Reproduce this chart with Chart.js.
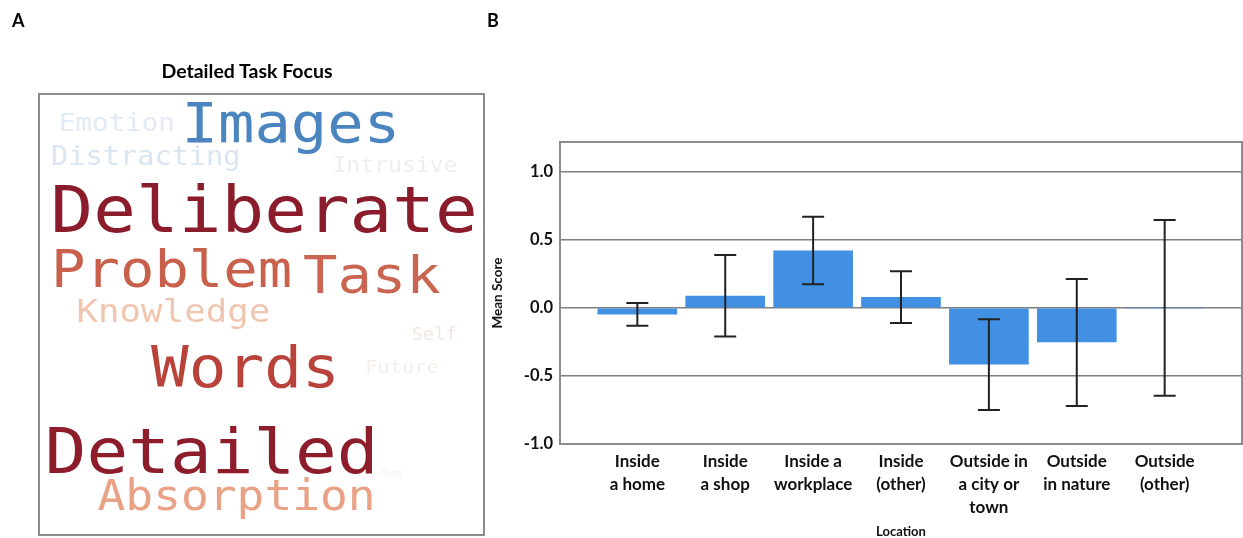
<!DOCTYPE html>
<html>
<head>
<meta charset="utf-8">
<script src="https://cdn.jsdelivr.net/npm/chart.js@4.4.1/dist/chart.umd.min.js"></script>
<style>
  body { margin: 0; background: #fff; font-family: Lato, sans-serif; }
  #page { position: relative; width: 1243px; height: 538px; overflow: hidden; }
  .panel-letter { position: absolute; font-weight: bold; font-size: 18px; color: #000; }
  #cloud-title { position: absolute; left: 97px; top: 59px; width: 300px; line-height: 24px; text-align: center; font-weight: bold; font-size: 19.5px; color: #000; }
  #cloudBox { position: absolute; left: 0; top: 0; width: 490px; height: 538px; }
  #barBox { position: absolute; left: 480px; top: 0; width: 763px; height: 538px; }
</style>
</head>
<body>
<div id="page">
  <div id="cloudBox"><canvas id="cloudChart"></canvas></div>
  <div id="barBox"><canvas id="barChart"></canvas></div>
  <div class="panel-letter" style="left:12px; top:9px;">A</div>
  <div class="panel-letter" style="left:487px; top:9px;">B</div>
  <div id="cloud-title">Detailed Task Focus</div>
</div>

<script>
// Panel A - word cloud
const cloudWords = ["Images", "Emotion", "Distracting", "Intrusive", "Deliberate", "Problem", "Task",
  "Knowledge", "Self", "Words", "Future", "Detailed", "Absorption", "Mind"];
const cloudWeights = [55, 25, 26, 21, 64.5, 52, 52, 32.5, 17, 57, 18.5, 63, 42, 8];
// word anchor (centre, baseline) inside the cloud frame, 0-100
const cloudX = [56.6, 17.5, 24.0, 80.0, 50.6, 29.8, 74.8, 30.2, 88.8, 46.4, 81.6, 38.8, 44.4, 79.1];
const cloudY = [10.9, 8.5, 16.1, 17.6, 31.4, 43.7, 45.2, 51.6, 55.8, 66.4, 63.3, 86.0, 94.3, 86.6];
const cloudColors = ["#4a85c0", "#e2ebf5", "#d9e6f2", "#eceef1", "#8a1c2c", "#c9604c", "#c96550",
  "#f1c6b0", "#f3e7e2", "#b9423a", "#f5eeeb", "#8e1d2c", "#e9a286", "#f6f1f1"];

// Panel B - bar chart
const locations = [
  ["Inside", "a home"],
  ["Inside", "a shop"],
  ["Inside a", "workplace"],
  ["Inside", "(other)"],
  ["Outside in", "a city or", "town"],
  ["Outside", "in nature"],
  ["Outside", "(other)"]
];
const meanScores = [-0.045, 0.088, 0.42, 0.079, -0.414, -0.25, 0];
const errLow = [-0.13, -0.21, 0.174, -0.11, -0.75, -0.72, -0.645];
const errHigh = [0.037, 0.39, 0.67, 0.27, -0.083, 0.213, 0.647];
const yTicks = [-1.0, -0.5, 0.0, 0.5, 1.0];

const frame = {
  id: "frame",
  afterDraw(chart) {
    const a = chart.chartArea;
    const c = chart.ctx;
    c.save();
    c.strokeStyle = "#8c8c8c";
    c.lineWidth = 2;
    c.strokeRect(a.left, a.top, a.right - a.left, a.bottom - a.top);
    c.restore();
  }
};

// draws each word at its point
const wordPlugin = {
  id: "words",
  afterDatasetsDraw(chart) {
    const c = chart.ctx;
    const meta = chart.getDatasetMeta(0);
    c.save();
    c.textAlign = "center";
    c.textBaseline = "alphabetic";
    meta.data.forEach(function (pt, i) {
      c.save();
      c.translate(pt.x, pt.y);
      c.scale(1.1, 1);
      c.font = cloudWeights[i] + "px 'DejaVu Sans Mono'";
      c.fillStyle = cloudColors[i];
      c.fillText(cloudWords[i], 0, 0);
      c.restore();
    });
    c.restore();
  }
};

new Chart(document.getElementById("cloudChart"), {
  type: "scatter",
  data: {
    datasets: [{
      data: cloudWords.map((w, i) => ({ x: cloudX[i], y: cloudY[i] })),
      pointRadius: 0
    }]
  },
  options: {
    responsive: true,
    maintainAspectRatio: false,
    animation: false,
    layout: { padding: { left: 39, top: 94, right: 6, bottom: 3 } },
    plugins: { legend: { display: false }, tooltip: { enabled: false } },
    scales: {
      x: { display: false, min: 0, max: 100 },
      y: { display: false, min: 0, max: 100, reverse: true }
    }
  },
  plugins: [wordPlugin, frame]
});

// error bars
const errorBars = {
  id: "errorBars",
  afterDatasetsDraw(chart) {
    const c = chart.ctx;
    const x = chart.scales.x;
    const y = chart.scales.y;
    c.save();
    c.strokeStyle = "#222";
    c.lineWidth = 2;
    for (let i = 0; i < meanScores.length; i++) {
      const px = x.getPixelForValue(i);
      const top = y.getPixelForValue(errHigh[i]);
      const bot = y.getPixelForValue(errLow[i]);
      c.beginPath();
      c.moveTo(px, top); c.lineTo(px, bot);
      c.moveTo(px - 11, top); c.lineTo(px + 11, top);
      c.moveTo(px - 11, bot); c.lineTo(px + 11, bot);
      c.stroke();
    }
    c.restore();
  }
};

new Chart(document.getElementById("barChart"), {
  type: "bar",
  data: {
    datasets: [{
      data: meanScores.map((v, i) => ({ x: i, y: v })),
      backgroundColor: "#4290e4",
      borderWidth: 0,
      barThickness: 79
    }]
  },
  options: {
    responsive: true,
    maintainAspectRatio: false,
    animation: false,
    layout: { padding: { left: 0, top: 142, right: 1, bottom: 0 } },
    plugins: { legend: { display: false }, tooltip: { enabled: false } },
    scales: {
      x: {
        type: "linear",
        offset: false,
        min: -0.88,
        max: 6.88,
        grid: { display: false, drawTicks: false },
        border: { display: false },
        afterBuildTicks: (axis) => { axis.ticks = locations.map((l, i) => ({ value: i })); },
        afterFit: (axis) => { axis.height = 94; },
        ticks: {
          autoSkip: false,
          maxRotation: 0,
          padding: 6.5,
          color: "#111",
          font: { family: "Lato", weight: "bold", size: 17, lineHeight: 23 / 17 },
          callback: (v) => locations[v]
        },
        title: {
          display: true,
          text: "Location",
          color: "#111",
          padding: { top: 0, bottom: 0 },
          font: { family: "Lato", weight: "bold", size: 13, lineHeight: 1 }
        }
      },
      y: {
        min: -1,
        max: 1.22,
        grid: { color: "#7f7f7f", lineWidth: 1.5, drawTicks: false },
        border: { display: false },
        afterBuildTicks: (axis) => { axis.ticks = yTicks.map((v) => ({ value: v })); },
        afterFit: (axis) => { axis.width = 80; },
        ticks: {
          padding: 7,
          color: "#111",
          font: { family: "Lato", weight: "bold", size: 16.5 },
          callback: (v) => v.toFixed(1)
        },
        title: {
          display: true,
          text: "Mean Score",
          color: "#111",
          padding: { top: 9.9, bottom: 0 },
          font: { family: "Lato", weight: "bold", size: 13.5 }
        }
      }
    }
  },
  plugins: [errorBars, frame]
});
</script>
</body>
</html>
